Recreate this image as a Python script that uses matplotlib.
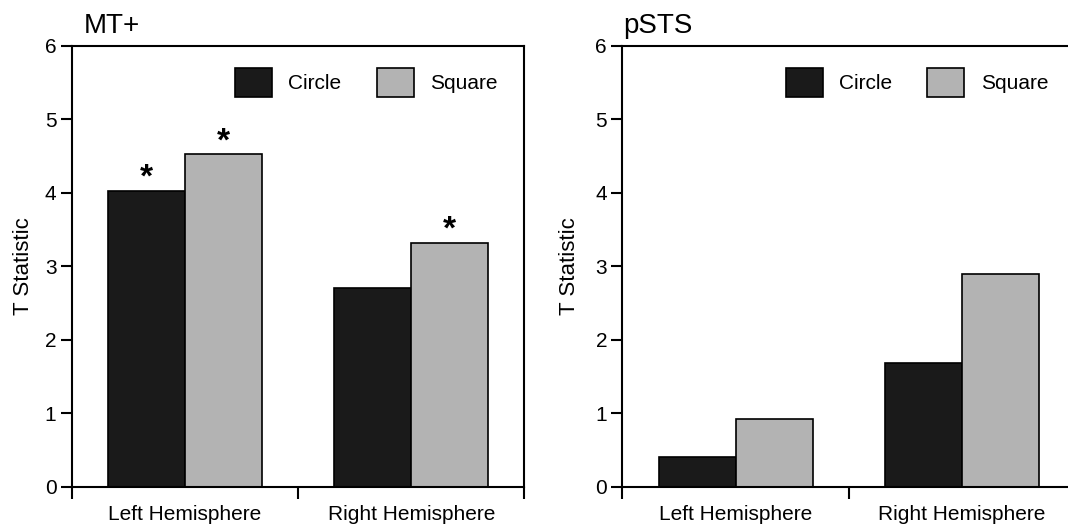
import matplotlib
import matplotlib.pyplot as plt

matplotlib.use("agg")

plt.rcParams["font.family"] = ["Liberation Sans", "DejaVu Sans"]

# data
groups = ["Left Hemisphere", "Right Hemisphere"]
conditions = ["Circle", "Square"]
mt_circle = [4.03, 2.70]
mt_square = [4.52, 3.32]
psts_circle = [0.40, 1.68]
psts_square = [0.92, 2.90]
mt_sig_circle = [True, False]
mt_sig_square = [True, True]
psts_sig_circle = [False, False]
psts_sig_square = [False, False]

colors = ["#1a1a1a", "#b3b3b3"]
bar_w = 0.34


def draw_panel(ax, title, title_x, circle, square, sig_circle, sig_square, ypad):
    centers = [0.5, 1.5]
    xc = [c - bar_w / 2 for c in centers]
    xs = [c + bar_w / 2 for c in centers]
    ax.bar(xc, circle, bar_w, color=colors[0], edgecolor="black",
           linewidth=1.2, label=conditions[0])
    ax.bar(xs, square, bar_w, color=colors[1], edgecolor="black",
           linewidth=1.2, label=conditions[1])

    # significance stars
    for x, h, s in zip(xc + xs, circle + square, sig_circle + sig_square):
        if s:
            ax.annotate("*", (x, h), xytext=(0, 9), textcoords="offset points",
                        ha="center", va="center", fontsize=24, fontweight="bold")

    ax.set_xlim(0, 2)
    ax.set_ylim(0, 6)
    ax.set_yticks(range(7))
    ax.set_xticks([0, 1, 2])
    ax.set_xticklabels([])
    ax.set_xticks(centers, minor=True)
    ax.set_xticklabels(groups, minor=True)
    ax.tick_params(axis="x", which="major", length=8.5, width=1.5, direction="out")
    ax.tick_params(axis="x", which="minor", length=0, pad=13, labelsize=15)
    ax.tick_params(axis="y", length=8, width=1.5, pad=3, labelsize=15)
    for sp in ax.spines.values():
        sp.set_linewidth(1.5)

    ax.set_ylabel("T Statistic", fontsize=16, labelpad=ypad)
    ax.text(title_x, 1.029, title, transform=ax.transAxes, fontsize=20,
            ha="left", va="baseline")

    ax.legend(ncol=2, loc="center", bbox_to_anchor=(0.6506, 0.9166),
              frameon=False, fontsize=15, handlelength=1.78, handleheight=1.78,
              handletextpad=0.78, columnspacing=1.68, borderpad=0,
              borderaxespad=0)


fig = plt.figure(figsize=(10.68, 5.26), dpi=100)
ax1 = fig.add_axes([0.0671, 0.0747, 0.424, 0.8384])
ax2 = fig.add_axes([0.5827, 0.0747, 0.424, 0.8384])

draw_panel(ax1, "MT+", 0.026, mt_circle, mt_square, mt_sig_circle,
           mt_sig_square, 8)
draw_panel(ax2, "pSTS", 0.002, psts_circle, psts_square, psts_sig_circle,
           psts_sig_square, 11)

plt.savefig("out.png", dpi=100)
plt.close(fig)
